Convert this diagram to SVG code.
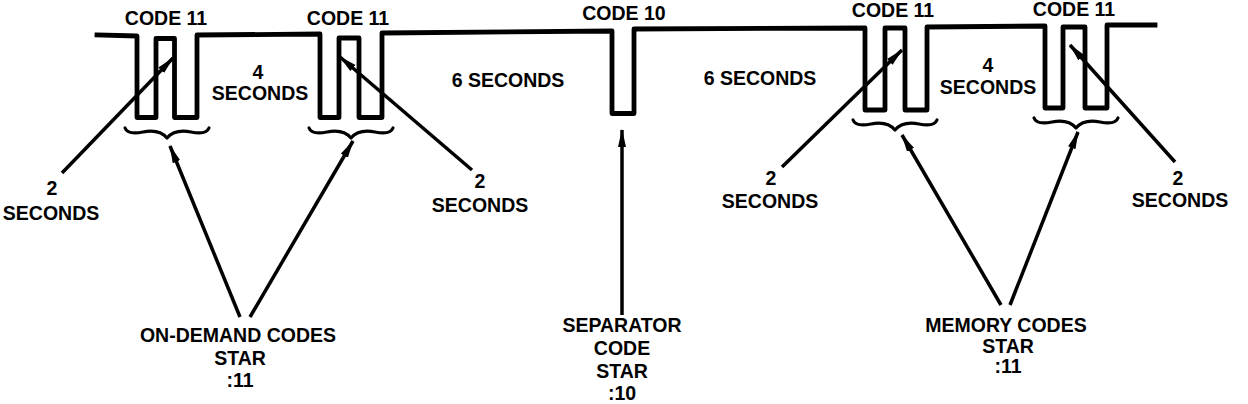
<svg xmlns="http://www.w3.org/2000/svg" width="1248" height="404" viewBox="0 0 1248 404">
<style>
text{font-family:"Liberation Sans",Arial,sans-serif;font-weight:bold;font-size:19.5px;fill:#000;text-anchor:middle}
.wave{fill:none;stroke:#000;stroke-width:4.8;stroke-linejoin:round;stroke-linecap:square}
.brace{fill:none;stroke:#000;stroke-width:3.2;stroke-linecap:round;stroke-linejoin:round}
.ptr{fill:none;stroke:#000;stroke-width:3.5;marker-end:url(#ah)}
</style>
<defs>
<marker id="ah" viewBox="0 0 18 9" refX="17" refY="4.5" markerWidth="18" markerHeight="9" markerUnits="userSpaceOnUse" orient="auto">
<path d="M0,0.5 L18,4.5 L0,8.5 z" fill="#000"/>
</marker>
<path id="br" d="M-42,-4 C-40,1 -34,2 -24,0 C-14,-2 -6,-1 0,6 C6,-1 14,-2 24,0 C34,2 40,1 42,-4"/>
</defs>
<rect width="1248" height="404" fill="#fff"/>
<g id="waveform">
<path class="wave" d="M97,35 L137,36 L137,117.5 L156,117.5 L156,38.5 L174.5,38.5 L174.5,117.5 L197,117.5 L197,35 L320,34 L320,117.5 L339,117.5 L339,38 L359,38 L359,117.5 L382,117.5 L382,33 L612,31 L612,113.5 L634,113.5 L634,29 L865,28 L865,110 L885,110 L885,28 L905,28 L905,110 L927,110 L927,27 L1045,26 L1045,108 L1063,108 L1063,27 L1085,27 L1085,108 L1107,108 L1107,25 L1155,25"/>
</g>
<g id="pulse-labels">
<text x="166" y="25">CODE 11</text>
<text x="348" y="25">CODE 11</text>
<text x="624" y="20">CODE 10</text>
<text x="893" y="17">CODE 11</text>
<text x="1074" y="16">CODE 11</text>
</g>
<g id="interval-labels">
<text x="258" y="79">4</text>
<text x="260" y="100">SECONDS</text>
<text x="508" y="87">6 SECONDS</text>
<text x="760" y="85">6 SECONDS</text>
<text x="988" y="72">4</text>
<text x="988" y="94">SECONDS</text>
</g>
<g id="braces">
<use href="#br" class="brace" transform="translate(167,132)"/>
<use href="#br" class="brace" transform="translate(351,132)"/>
<use href="#br" class="brace" transform="translate(895,124)"/>
<use href="#br" class="brace" transform="translate(1076,122)"/>
</g>
<g id="gap-left-1"><text x="52" y="195">2</text><text x="51" y="220">SECONDS</text></g>
<g id="gap-right-1"><text x="480" y="188">2</text><text x="480" y="212">SECONDS</text></g>
<g id="gap-left-2"><text x="771" y="185">2</text><text x="770" y="208">SECONDS</text></g>
<g id="gap-right-2"><text x="1178" y="185">2</text><text x="1180" y="207">SECONDS</text></g>
<g id="on-demand"><text x="238" y="342">ON-DEMAND CODES</text><text x="240" y="365">STAR</text><text x="240" y="387">:11</text></g>
<g id="separator"><text x="622" y="332">SEPARATOR</text><text x="622" y="355">CODE</text><text x="622" y="378">STAR</text><text x="622" y="400">:10</text></g>
<g id="memory"><text x="1006" y="332">MEMORY CODES</text><text x="1008" y="353">STAR</text><text x="1008" y="373">:11</text></g>
<g id="connectors">
<line class="ptr" x1="62" y1="173" x2="173" y2="58"/>
<line class="ptr" x1="472" y1="170" x2="340" y2="57"/>
<line class="ptr" x1="782" y1="167" x2="902" y2="50"/>
<line class="ptr" x1="1175" y1="162" x2="1070" y2="45"/>
<line class="ptr" x1="240" y1="317" x2="170" y2="146"/>
<line class="ptr" x1="250" y1="317" x2="353" y2="141"/>
<line class="ptr" x1="622" y1="315" x2="622" y2="130"/>
<line class="ptr" x1="1001" y1="305" x2="902" y2="135"/>
<line class="ptr" x1="1010" y1="305" x2="1078" y2="132"/>
</g>
</svg>
